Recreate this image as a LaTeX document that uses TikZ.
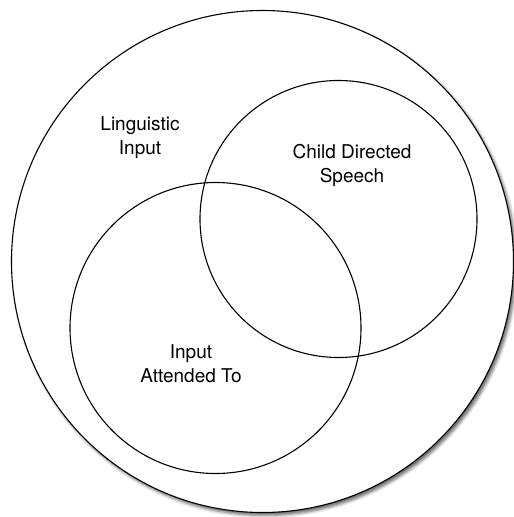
\documentclass[tikz,border=0pt]{standalone}
\usepackage{fontspec}
\setmainfont{TeX Gyre Heros}
\usetikzlibrary{shadows.blur}

\begin{document}
\begin{tikzpicture}[x=1pt, y=-1pt,
setnode/.style={circle, draw=black, line width=1.1pt, inner sep=0pt},
labelnode/.style={align=center, font=\fontsize{19}{24}\selectfont},
]
\useasboundingbox (0,0) rectangle (514,517);

%Sets
\node[setnode, fill=white, minimum size=502pt, blur shadow={shadow xshift=2.5pt, shadow yshift=-3pt, shadow blur radius=3pt, shadow opacity=60}] (linguistic) at (262.5,261.5) {};
\node[setnode, minimum size=277pt] (cds) at (338.5,219) {};
\node[setnode, minimum size=291pt] (attended) at (215.5,328) {};

%Labels
\node[labelnode] (linguistic_label) at (140,138) {Linguistic\\Input};
\node[labelnode] (cds_label) at (352,165) {Child Directed\\Speech};
\node[labelnode] (attended_label) at (191,364) {Input\\Attended To};

\end{tikzpicture}
\end{document}
